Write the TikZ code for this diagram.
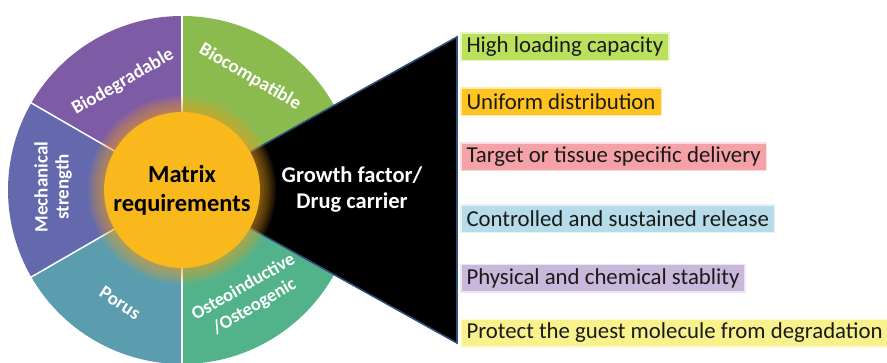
\documentclass[tikz,border=0pt]{standalone}
\usepackage{fontspec}
\setmainfont{Carlito}
\begin{document}
\begin{tikzpicture}[x=1pt,y=1pt]
  % palette
  \definecolor{biocompat}{HTML}{8BBB4F}
  \definecolor{biodeg}{HTML}{7E5CA5}
  \definecolor{mech}{HTML}{6469AE}
  \definecolor{porus}{HTML}{5B9DAE}
  \definecolor{osteo}{HTML}{52B38B}
  \definecolor{core}{HTML}{F9B91C}
  \definecolor{glow}{HTML}{F0A020}
  \definecolor{edgeblue}{HTML}{2E4D7B}
  \definecolor{labeltext}{HTML}{1A1A1A}
  \definecolor{cLoad}{HTML}{BBE15C}
  \definecolor{cUniform}{HTML}{FFC420}
  \definecolor{cTarget}{HTML}{F4A1A7}
  \definecolor{cRelease}{HTML}{B5DCE8}
  \definecolor{cStable}{HTML}{C9B8DB}
  \definecolor{cProtect}{HTML}{F8F28C}

  \tikzset{
    slice/.style={line width=1.5pt, draw=white, line join=round},
    wheeltext/.style={text=white, font=\bfseries\fontsize{19}{21}\selectfont, align=center},
    tag/.style={anchor=west, fill=#1, draw=#1, draw opacity=0.35, line width=3pt,
                inner xsep=5pt, inner ysep=0pt, minimum height=26pt,
                text=labeltext, font=\fontsize{22.8}{26}\selectfont},
  }

  \useasboundingbox (0,0) rectangle (887,362);

  \coordinate (c) at (182,172);
  \def\R{174}

  % outer wheel
  \fill[biocompat] (c) -- ++(0:\R) arc (0:90:\R) -- cycle;
  \fill[biodeg]    (c) -- ++(90:\R) arc (90:150:\R) -- cycle;
  \fill[mech]      (c) -- ++(150:\R) arc (150:210:\R) -- cycle;
  \fill[porus]     (c) -- ++(210:\R) arc (210:270:\R) -- cycle;
  \fill[osteo]     (c) -- ++(270:\R) arc (270:360:\R) -- cycle;
  \foreach \a in {90,150,210,270}
    \draw[slice] (c) -- ++(\a:\R);

  % wheel labels
  \node[wheeltext, rotate=30]  (lbDeg)  at (123,280) {Biodegradable};
  \node[wheeltext, rotate=-30] (lbComp) at (250,285) {Biocompatible};
  \node[wheeltext, rotate=90]  (lbMech) at (53,175) {Mechanical\\strength};
  \node[wheeltext, rotate=-33] (lbPor)  at (120,59) {Porus};
  \node[wheeltext, rotate=30, font=\bfseries\fontsize{18.5}{22}\selectfont]
    (lbOst) at (249,65) {Osteoinductive\\/Osteogenic};

  % carrier wedge
  \coordinate (tTop) at (457,325);
  \coordinate (tBot) at (457,19);
  \filldraw[fill=black, draw=edgeblue, line width=1.6pt, line join=miter]
    (c) -- (tTop) -- (tBot) -- cycle;

  % glow around the core
  \foreach \r in {94,92,...,80}
    \fill[glow, opacity=0.09] (c) circle (\r);

  % core
  \node[circle, fill=core, minimum size=156pt, inner sep=0pt] (core) at (c) {};
  \node[font=\bfseries\fontsize{24.5}{29}\selectfont, align=center, text=black]
    (coreText) at (c) {Matrix\\requirements};

  \node[font=\bfseries\fontsize{22.5}{26}\selectfont, align=center, text=white]
    (carrier) at (352,172) {Growth factor/\\Drug carrier};

  % property tags
  \node[tag=cLoad]    (p1) at (460,315) {High loading capacity};
  \node[tag=cUniform] (p2) at (460,260) {Uniform distribution};
  \node[tag=cTarget]  (p3) at (460,205) {Target or tissue specific delivery};
  \node[tag=cRelease] (p4) at (460,143) {Controlled and sustained release};
  \node[tag=cStable]  (p5) at (460,84)  {Physical and chemical stablity};
  \node[tag=cProtect] (p6) at (460,29)  {Protect the guest molecule from degradation};
\end{tikzpicture}
\end{document}
